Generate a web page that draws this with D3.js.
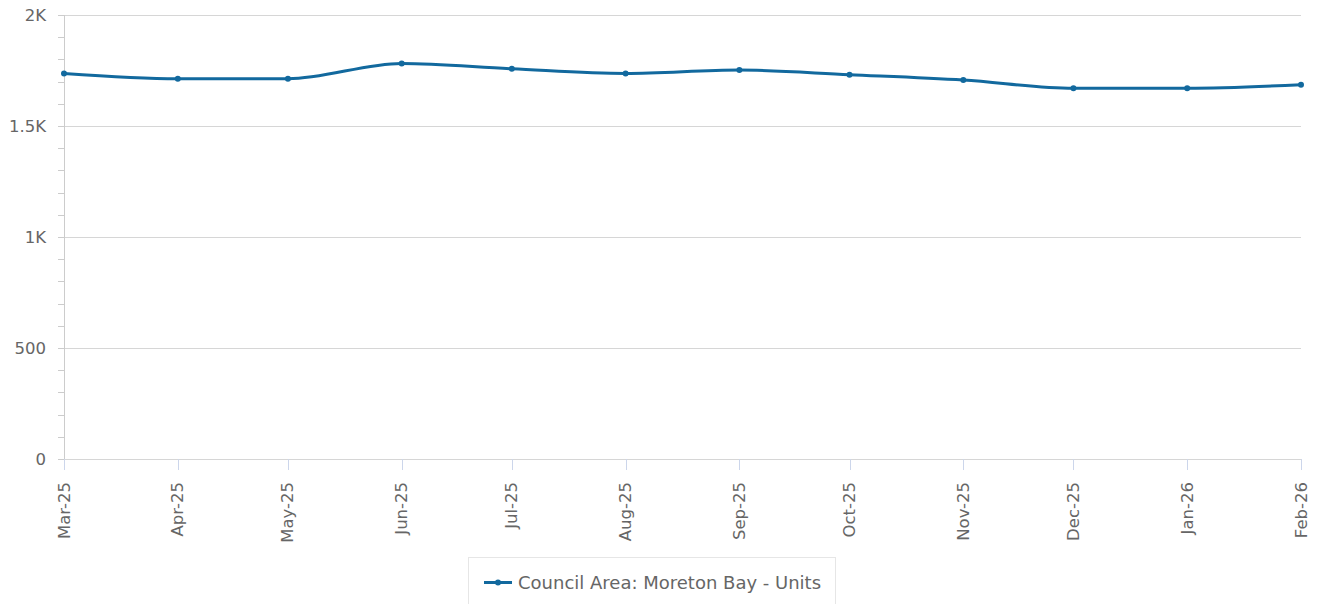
<!DOCTYPE html>
<html>
<head>
<meta charset="utf-8">
<script src="https://cdn.jsdelivr.net/npm/d3@7"></script>
<style>
  body { margin: 0; background: #fff; }
  text { font-family: "DejaVu Sans", sans-serif; }
</style>
</head>
<body>
<div id="chart"></div>
<script>
// months and values
var months = ["2025-03", "2025-04", "2025-05", "2025-06", "2025-07", "2025-08",
              "2025-09", "2025-10", "2025-11", "2025-12", "2026-01", "2026-02"];
var units = [1737, 1713, 1713, 1782, 1758, 1737, 1752, 1731, 1707, 1670, 1670, 1686];
var yTicks = [0, 500, 1000, 1500, 2000];
var seriesName = "Council Area: Moreton Bay - Units";

var w = 1320, h = 604;
var plotLeft = 64, plotRight = 1301, plotTop = 15, plotBottom = 459;
var lineColor = "#12699e";

var parse = d3.timeParse("%Y-%m");
var fmt = d3.timeFormat("%b-%y");
var dataset = months.map(function(m, i) {
  return { date: parse(m), value: units[i] };
});

var svg = d3.select("#chart")
            .append("svg")
            .attr("width", w)
            .attr("height", h);

var x = d3.scaleTime()
          .domain(d3.extent(dataset, function(d) { return d.date; }))
          .range([plotLeft, plotRight]);
var y = d3.scaleLinear()
          .domain([0, 2000])
          .range([plotBottom, plotTop]);

// gridlines
svg.append("g")
   .selectAll("line")
   .data(yTicks)
   .enter()
   .append("line")
   .attr("x1", plotLeft - 6)
   .attr("x2", plotRight)
   .attr("y1", function(d) { return Math.round(y(d)) + 0.5; })
   .attr("y2", function(d) { return Math.round(y(d)) + 0.5; })
   .attr("stroke", "#d6d6d6");

// minor ticks on the y axis
svg.append("g")
   .selectAll("line")
   .data(d3.range(0, 2001, 100))
   .enter()
   .append("line")
   .attr("x1", plotLeft - 6)
   .attr("x2", plotLeft)
   .attr("y1", function(d) { return Math.round(y(d)) + 0.5; })
   .attr("y2", function(d) { return Math.round(y(d)) + 0.5; })
   .attr("stroke", "#cccccc");

// y axis line
svg.append("line")
   .attr("x1", plotLeft + 0.5).attr("x2", plotLeft + 0.5)
   .attr("y1", plotTop).attr("y2", plotBottom)
   .attr("stroke", "#cccccc");

// y labels
svg.append("g")
   .selectAll("text")
   .data(yTicks)
   .enter()
   .append("text")
   .attr("x", plotLeft - 18)
   .attr("y", function(d) { return y(d) + 5.5; })
   .attr("text-anchor", "end")
   .attr("font-size", 16.5)
   .attr("fill", "#666")
   .text(function(d) { return d >= 1000 ? d3.format("~g")(d / 1000) + "K" : d; });

// x ticks and rotated labels
var xg = svg.append("g");
xg.selectAll("line")
  .data(dataset)
  .enter()
  .append("line")
  .attr("x1", function(d) { return Math.round(x(d.date)) + 0.5; })
  .attr("x2", function(d) { return Math.round(x(d.date)) + 0.5; })
  .attr("y1", plotBottom)
  .attr("y2", plotBottom + 11)
  .attr("stroke", "#ccd6eb");

xg.selectAll("text")
  .data(dataset)
  .enter()
  .append("text")
  .attr("transform", function(d) {
    return "translate(" + (x(d.date) + 5.5) + "," + (plotBottom + 23) + ") rotate(-90)";
  })
  .attr("text-anchor", "end")
  .attr("font-size", 16.5)
  .attr("fill", "#666")
  .text(function(d) { return fmt(d.date); });

// the series
var line = d3.line()
             .x(function(d) { return x(d.date); })
             .y(function(d) { return y(d.value); })
             .curve(d3.curveMonotoneX);

svg.append("path")
   .datum(dataset)
   .attr("d", line)
   .attr("fill", "none")
   .attr("stroke", lineColor)
   .attr("stroke-width", 3);

svg.append("g")
   .selectAll("circle")
   .data(dataset)
   .enter()
   .append("circle")
   .attr("cx", function(d) { return x(d.date); })
   .attr("cy", function(d) { return y(d.value); })
   .attr("r", 3)
   .attr("fill", lineColor);

// legend
var lg = svg.append("g").attr("transform", "translate(468,557)");
lg.append("rect")
  .attr("x", 0.5).attr("y", 0.5)
  .attr("width", 367).attr("height", 60)
  .attr("fill", "#fff")
  .attr("stroke", "#e6e6e6");
lg.append("line")
  .attr("x1", 16).attr("x2", 44)
  .attr("y1", 25.5).attr("y2", 25.5)
  .attr("stroke", lineColor)
  .attr("stroke-width", 3);
lg.append("circle")
  .attr("cx", 30).attr("cy", 25.5).attr("r", 3)
  .attr("fill", lineColor);
lg.append("text")
  .attr("x", 50).attr("y", 32)
  .attr("font-size", 18)
  .attr("fill", "#666")
  .text(seriesName);
</script>
</body>
</html>
